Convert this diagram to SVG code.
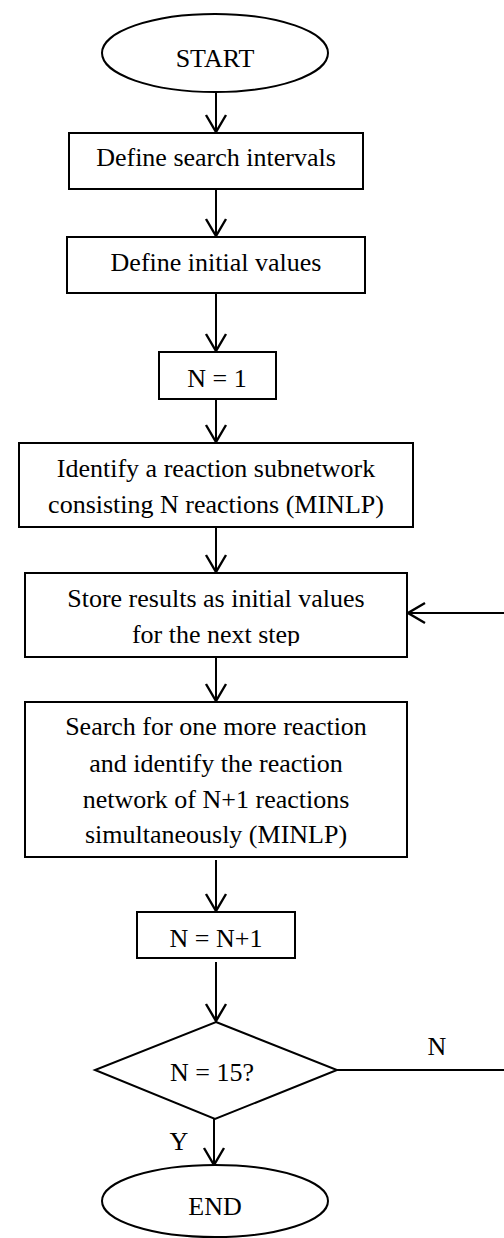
<svg xmlns="http://www.w3.org/2000/svg" width="504" height="1238" viewBox="0 0 504 1238">
<style>
.s{fill:#fff;stroke:#000;stroke-width:2}
.t{font-family:"Liberation Serif","Times New Roman",serif;font-size:26px;fill:#000;text-anchor:middle}
.c{fill:none;stroke:#000;stroke-width:2}
</style>
<defs>
<marker id="ah" viewBox="-19 -12 21 24" refX="0" refY="0" markerWidth="21" markerHeight="24" markerUnits="userSpaceOnUse" orient="auto">
<path d="M-17,-10 L0,0 L-17,10" fill="none" stroke="#000" stroke-width="2.4"/>
</marker>
<clipPath id="clipStore"><rect x="25" y="573" width="382" height="73"/></clipPath>
</defs>
<rect width="504" height="1238" fill="#fff"/>
<g id="connectors">
<line class="c" x1="216" y1="92" x2="216" y2="132" marker-end="url(#ah)"/>
<line class="c" x1="216" y1="189" x2="216" y2="236" marker-end="url(#ah)"/>
<line class="c" x1="216" y1="293" x2="216" y2="351" marker-end="url(#ah)"/>
<line class="c" x1="216" y1="399" x2="216" y2="442" marker-end="url(#ah)"/>
<line class="c" x1="216" y1="527" x2="216" y2="572" marker-end="url(#ah)"/>
<line class="c" x1="216" y1="657" x2="216" y2="701" marker-end="url(#ah)"/>
<line class="c" x1="216" y1="860" x2="216" y2="911" marker-end="url(#ah)"/>
<line class="c" x1="216" y1="962" x2="216" y2="1021" marker-end="url(#ah)"/>
<line class="c" x1="214" y1="1119" x2="214" y2="1165" marker-end="url(#ah)"/>
<path class="c" d="M337,1070 H507 V613 H408" marker-end="url(#ah)"/>
<text class="t" x="437" y="1055">N</text>
<text class="t" x="179" y="1150">Y</text>
</g>
<g id="start">
<ellipse class="s" cx="215" cy="53" rx="113" ry="39"/>
<text class="t" x="215" y="67">START</text>
</g>
<g id="define-intervals">
<rect class="s" x="69" y="133" width="294" height="56"/>
<text class="t" x="216" y="166">Define search intervals</text>
</g>
<g id="define-initial">
<rect class="s" x="67" y="237" width="298" height="56"/>
<text class="t" x="216" y="271">Define initial values</text>
</g>
<g id="n-equals-1">
<rect class="s" x="159" y="352" width="117" height="47"/>
<text class="t" x="217" y="387">N = 1</text>
</g>
<g id="identify">
<rect class="s" x="19" y="443" width="394" height="84"/>
<text class="t" x="216" y="477">Identify a reaction subnetwork</text>
<text class="t" x="216" y="513">consisting N reactions (MINLP)</text>
</g>
<g id="store">
<rect class="s" x="25" y="573" width="382" height="84"/>
<text class="t" x="216" y="607">Store results as initial values</text>
<text class="t" x="216" y="643" clip-path="url(#clipStore)">for the next step</text>
</g>
<g id="search">
<rect class="s" x="25" y="702" width="382" height="155"/>
<text class="t" x="216" y="735">Search for one more reaction</text>
<text class="t" x="216" y="772">and identify the reaction</text>
<text class="t" x="216" y="808">network of N+1 reactions</text>
<text class="t" x="216" y="843">simultaneously (MINLP)</text>
</g>
<g id="increment">
<rect class="s" x="137" y="912" width="158" height="46"/>
<text class="t" x="216" y="947">N = N+1</text>
</g>
<g id="decision">
<polygon class="s" points="216,1022 337,1070 215,1119 95,1070"/>
<text class="t" x="212" y="1081">N = 15?</text>
</g>
<g id="end">
<ellipse class="s" cx="215" cy="1201" rx="113" ry="36"/>
<text class="t" x="215" y="1215">END</text>
</g>
</svg>
